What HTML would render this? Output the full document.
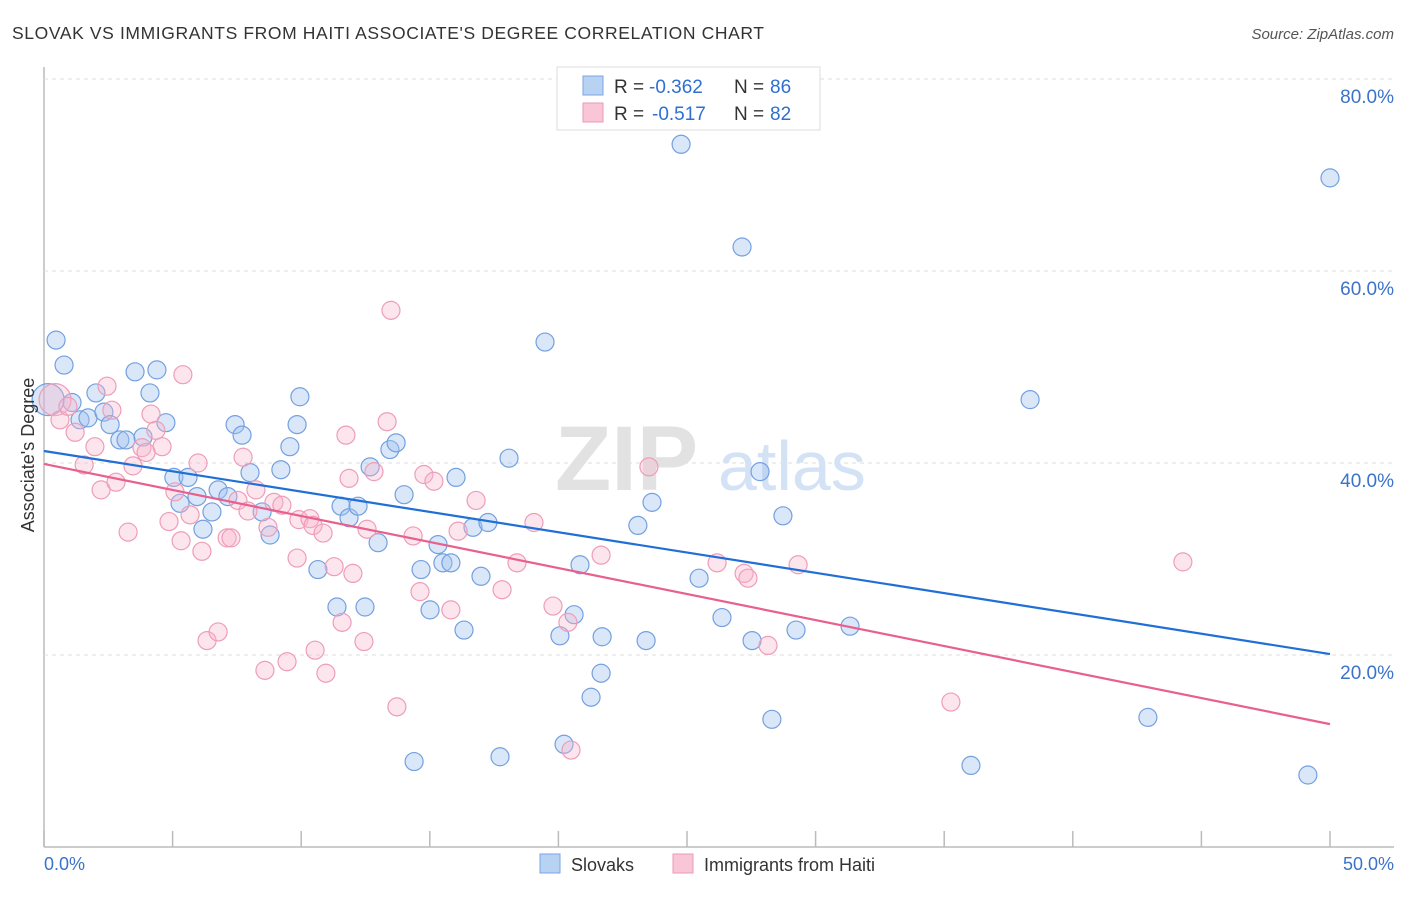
<!DOCTYPE html>
<html><head><meta charset="utf-8"><style>
body{margin:0;background:#fff;font-family:"Liberation Sans",sans-serif}
svg text{font-family:"Liberation Sans",sans-serif}
</style></head><body>
<svg id="chart" width="1406" height="892" xmlns="http://www.w3.org/2000/svg">
<text x="12" y="39" font-size="17.5" fill="#333" textLength="752">SLOVAK VS IMMIGRANTS FROM HAITI ASSOCIATE'S DEGREE CORRELATION CHART</text>
<text x="1394" y="39" font-size="15" fill="#555" text-anchor="end" font-style="italic">Source: ZipAtlas.com</text>
<g id="grid"></g>
<text x="555" y="490" font-size="92" fill="#e2e2e2" font-family="Liberation Serif" font-weight="bold">ZIP</text>
<text x="718" y="490" font-size="70" fill="#d3e2f4">atlas</text>
<g id="points"></g>
<g id="lines"></g>
<text transform="translate(34,455) rotate(-90)" font-size="18" fill="#333" text-anchor="middle">Associate's Degree</text>
<text x="44" y="870" font-size="18" fill="#3b73c9">0.0%</text>
<text x="1394" y="870" font-size="18" fill="#3b73c9" text-anchor="end">50.0%</text>
<g>
<rect x="557" y="67" width="263" height="63" fill="#fff" stroke="#ddd"/>
<rect x="583" y="76" width="20" height="19" fill="#b8d2f3" stroke="#7aa6e0"/>
<rect x="583" y="103" width="20" height="19" fill="#f8c6d6" stroke="#eb9ab5"/>
<text x="614" y="93" font-size="19" fill="#333">R =</text>
<text x="649" y="93" font-size="19" fill="#2f6fd0">-0.362</text>
<text x="734" y="93" font-size="19" fill="#333">N =</text>
<text x="770" y="93" font-size="19" fill="#2f6fd0">86</text>
<text x="614" y="120" font-size="19" fill="#333">R =</text>
<text x="652" y="120" font-size="19" fill="#2f6fd0">-0.517</text>
<text x="734" y="120" font-size="19" fill="#333">N =</text>
<text x="770" y="120" font-size="19" fill="#2f6fd0">82</text>
</g>
<g>
<rect x="540" y="854" width="20" height="19" fill="#b8d2f3" stroke="#7aa6e0"/>
<text x="571" y="871" font-size="18" fill="#333">Slovaks</text>
<rect x="673" y="854" width="20" height="19" fill="#f8c6d6" stroke="#eb9ab5"/>
<text x="704" y="871" font-size="18" fill="#333">Immigrants from Haiti</text>
</g>
</svg>
<script>
const yTicks=[20,40,60,80];
const yTickLabels=["20.0%","40.0%","60.0%","80.0%"];
const xTicks=[0,5,10,15,20,25,30,35,40,45,50];
const blueX=[0.47,0.78,0.16,1.09,2.02,3.54,4.39,4.12,1.40,1.71,2.33,2.57,2.95,3.19,3.85,4.74,5.05,5.60,5.29,5.95,6.18,6.53,6.77,7.15,7.43,7.70,8.01,8.48,8.79,9.21,9.56,9.84,9.95,10.65,11.39,11.55,11.86,12.21,12.48,12.68,12.99,13.45,13.69,14.00,14.39,14.66,15.01,15.32,15.51,15.82,16.02,16.33,16.68,16.99,17.26,17.73,18.08,19.48,20.06,20.22,20.61,20.84,21.27,21.66,21.70,23.09,23.41,23.64,24.77,25.47,26.36,27.14,27.53,27.84,28.30,28.73,29.24,31.34,36.04,38.34,42.92,49.14,50.0];
const blueY=[52.8,50.2,46.6,46.3,47.3,49.5,49.7,47.3,44.5,44.7,45.3,44.0,42.4,42.4,42.7,44.2,38.5,38.5,35.8,36.5,33.1,34.9,37.2,36.5,44.0,42.9,39.0,34.9,32.5,39.3,41.7,44.0,46.9,28.9,25.0,35.5,34.3,35.5,25.0,39.6,31.7,41.4,42.1,36.7,8.9,28.9,24.7,31.5,29.6,29.6,38.5,22.6,33.3,28.2,33.8,9.4,40.5,52.6,22.0,10.7,24.2,29.4,15.6,18.1,21.9,33.5,21.5,35.9,73.2,28.0,23.9,62.5,21.5,39.1,13.3,34.5,22.6,23.0,8.5,46.6,13.5,7.5,69.7];
const pinkX=[0.43,0.62,0.93,1.21,1.56,1.98,2.22,2.45,2.64,2.80,3.27,3.46,3.81,3.97,4.16,4.35,4.59,4.86,5.09,5.33,5.40,5.68,5.99,6.14,6.34,6.77,7.12,7.27,7.54,7.74,7.93,8.24,8.59,8.71,8.94,9.25,9.45,9.84,9.91,10.34,10.46,10.54,10.85,10.96,11.28,11.59,11.74,11.86,12.01,12.44,12.56,12.83,13.34,13.49,13.72,14.35,14.62,14.77,15.16,15.82,16.10,16.80,17.81,18.39,19.05,19.79,20.37,20.49,21.66,23.52,26.17,27.22,27.37,28.15,29.32,35.26,44.28];
const pinkY=[46.6,44.5,45.9,43.2,39.8,41.7,37.2,48.0,45.5,38.0,32.8,39.7,41.6,41.1,45.1,43.4,41.7,33.9,37.0,31.9,49.2,34.6,40.0,30.8,21.5,22.4,32.2,32.2,36.1,40.6,35.0,37.2,18.4,33.3,35.9,35.6,19.3,30.1,34.1,34.2,33.5,20.5,32.7,18.1,29.2,23.4,42.9,38.4,28.5,21.4,33.1,39.1,44.3,55.9,14.6,32.4,26.6,38.8,38.1,24.7,32.9,36.1,26.8,29.6,33.8,25.1,23.4,10.1,30.4,39.6,29.6,28.5,28.0,21.0,29.4,15.1,29.7];
const blueTrend=[41.25,20.1];
const pinkTrend=[39.9,12.8];
const NS="http://www.w3.org/2000/svg";
function xs(v){return 44+v*1286/50;}
function ys(v){return 847-v*9.6;}
function mk(t,a,p){const e=document.createElementNS(NS,t);for(const k in a)e.setAttribute(k,a[k]);p.appendChild(e);return e;}
const grid=document.getElementById('grid');
const ax=mk('line',{x1:44,y1:67,x2:44,y2:847,stroke:'#bbb','stroke-width':1.5},grid);


const bx=mk('line',{x1:44,y1:847,x2:1394,y2:847,stroke:'#bbb','stroke-width':1.5},grid);


mk('line',{x1:44,y1:79,x2:1394,y2:79,stroke:'#ddd','stroke-dasharray':'4,4'},grid);
yTicks.forEach((t,i)=>{
 const g=mk('line',{x1:44,y1:ys(t),x2:1394,y2:ys(t),stroke:'#ddd','stroke-dasharray':'4,4'},grid);
 
 
 const l=mk('text',{x:1394,y:ys(t)+24,'font-size':19,fill:'#3b73c9','text-anchor':'end'},grid);
 l.textContent=yTickLabels[i];
 
 
});
xTicks.forEach(t=>{
 const k=mk('line',{x1:xs(t),y1:831,x2:xs(t),y2:847,stroke:'#bbb','stroke-width':1.5},grid);
 
 
});
const pts=document.getElementById('points');
function dots(X,Y,fill,stroke,name){
 X.forEach((x,i)=>{
  const big=(i===0&&name==='pink-point')||(i===2&&name==='blue-point');
  const c=mk('circle',{cx:xs(x),cy:ys(Y[i]),r:big?16:9,fill:fill,stroke:stroke,'stroke-width':1.2},pts);
  
  
 });
}
dots(blueX,blueY,'rgba(160,196,240,0.4)','#74a0e0','blue-point');
dots(pinkX,pinkY,'rgba(248,180,202,0.35)','#ee9db7','pink-point');
const ln=document.getElementById('lines');
const bl=mk('line',{x1:xs(0),y1:ys(blueTrend[0]),x2:xs(50),y2:ys(blueTrend[1]),stroke:'#1f6fd6','stroke-width':2.2},ln);


const pl=mk('line',{x1:xs(0),y1:ys(pinkTrend[0]),x2:xs(50),y2:ys(pinkTrend[1]),stroke:'#e8608e','stroke-width':2.2},ln);


</script>
</body></html>
